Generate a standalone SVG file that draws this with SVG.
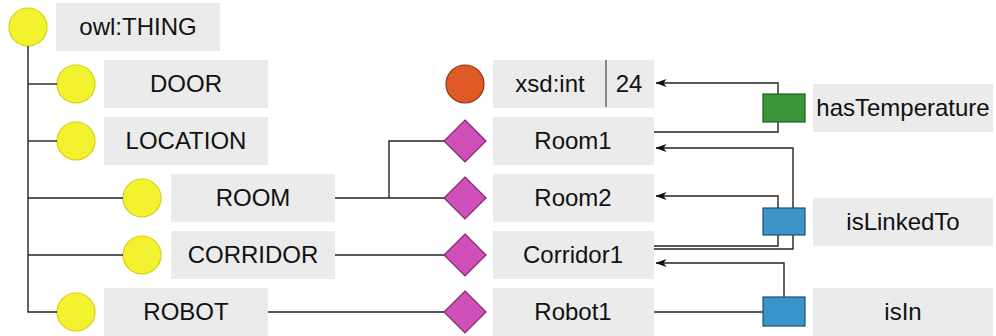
<svg xmlns="http://www.w3.org/2000/svg" width="996" height="336" viewBox="0 0 996 336">
<style>
.box{fill:#ebebeb}
.t{font-family:"Liberation Sans",Arial,sans-serif;font-size:24px;fill:#111;text-anchor:middle}
.cls{fill:#f3f22e;stroke:#d6cf12;stroke-width:1.2}
.ind{fill:#cf50b9;stroke:#7d2b6c;stroke-width:1.2}
.lit{fill:#e05a26;stroke:#8b3414;stroke-width:1.2}
.pg{fill:#3a9739;stroke:#1f5c20;stroke-width:1.2}
.pb{fill:#3a93c9;stroke:#1f4f72;stroke-width:1.2}
.ln{fill:none;stroke:#222;stroke-width:1.4}
</style>
<defs>
<marker id="ah" viewBox="0 0 11 8" refX="10.5" refY="4" markerWidth="11" markerHeight="8" markerUnits="userSpaceOnUse" orient="auto">
<path d="M11,4 L0,0 L3,4 L0,8 Z" fill="#111"/>
</marker>
</defs>
<g id="owl-thing"><circle class="cls" cx="28" cy="27" r="19"/><rect class="box" x="56" y="3" width="164" height="48"/><text class="t" x="138" y="35">owl:THING</text></g>
<g id="door"><circle class="cls" cx="76" cy="84" r="19"/><rect class="box" x="104" y="60" width="164" height="48"/><text class="t" x="186" y="92">DOOR</text></g>
<g id="location"><circle class="cls" cx="76" cy="141" r="19"/><rect class="box" x="104" y="117" width="164" height="48"/><text class="t" x="186" y="149">LOCATION</text></g>
<g id="room"><circle class="cls" cx="142" cy="198" r="19"/><rect class="box" x="171" y="174" width="164" height="48"/><text class="t" x="253" y="206">ROOM</text></g>
<g id="corridor"><circle class="cls" cx="142" cy="255" r="19"/><rect class="box" x="171" y="231" width="164" height="48"/><text class="t" x="253" y="263">CORRIDOR</text></g>
<g id="robot"><circle class="cls" cx="76" cy="312" r="19"/><rect class="box" x="104" y="288" width="164" height="48"/><text class="t" x="186" y="320">ROBOT</text></g>
<g id="xsd-int"><circle class="lit" cx="465" cy="84" r="19"/><rect class="box" x="493" y="60" width="161" height="48"/><line x1="606" y1="60" x2="606" y2="107" stroke="#444" stroke-width="1.2"/><text class="t" x="550" y="92">xsd:int</text><text class="t" x="629" y="92">24</text></g>
<g id="room1"><rect class="box" x="493" y="117" width="161" height="48"/><text class="t" x="573" y="149">Room1</text></g>
<g id="room2"><rect class="box" x="493" y="174" width="161" height="48"/><text class="t" x="573" y="206">Room2</text></g>
<g id="corridor1"><rect class="box" x="493" y="231" width="161" height="48"/><text class="t" x="573" y="263">Corridor1</text></g>
<g id="robot1"><rect class="box" x="493" y="288" width="161" height="48"/><text class="t" x="573" y="320">Robot1</text></g>
<g id="connectors">
<path class="ln" d="M28,46 V312 H57"/>
<path class="ln" d="M28,84 H57"/>
<path class="ln" d="M28,141 H57"/>
<path class="ln" d="M28,198 H123"/>
<path class="ln" d="M28,255 H123"/>
<path class="ln" d="M335,198 H444"/>
<path class="ln" d="M389,198 V141 H444"/>
<path class="ln" d="M335,255 H444"/>
<path class="ln" d="M268,312 H444"/>
<path class="ln" d="M654,132 H778 V83 H656" marker-end="url(#ah)"/>
<path class="ln" d="M654,246 H778 V196 H656" marker-end="url(#ah)"/>
<path class="ln" d="M654,249 H793 V148 H656" marker-end="url(#ah)"/>
<path class="ln" d="M654,312 H763"/>
<path class="ln" d="M784,297 V263 H656" marker-end="url(#ah)"/>
</g>
<g id="room1-ind"><polygon class="ind" points="465,120 486,141 465,162 444,141"/></g>
<g id="room2-ind"><polygon class="ind" points="465,177 486,198 465,219 444,198"/></g>
<g id="corridor1-ind"><polygon class="ind" points="465,234 486,255 465,276 444,255"/></g>
<g id="robot1-ind"><polygon class="ind" points="465,291 486,312 465,333 444,312"/></g>
<g id="hasTemperature"><rect class="pg" x="763" y="94" width="42" height="28"/><rect class="box" x="813" y="84" width="180" height="48"/><text class="t" x="903" y="116">hasTemperature</text></g>
<g id="isLinkedTo"><rect class="pb" x="763" y="208" width="42" height="27"/><rect class="box" x="813" y="198" width="180" height="48"/><text class="t" x="903" y="230">isLinkedTo</text></g>
<g id="isIn"><rect class="pb" x="763" y="297" width="42" height="29"/><rect class="box" x="813" y="288" width="180" height="48"/><text class="t" x="903" y="320">isIn</text></g>
</svg>
